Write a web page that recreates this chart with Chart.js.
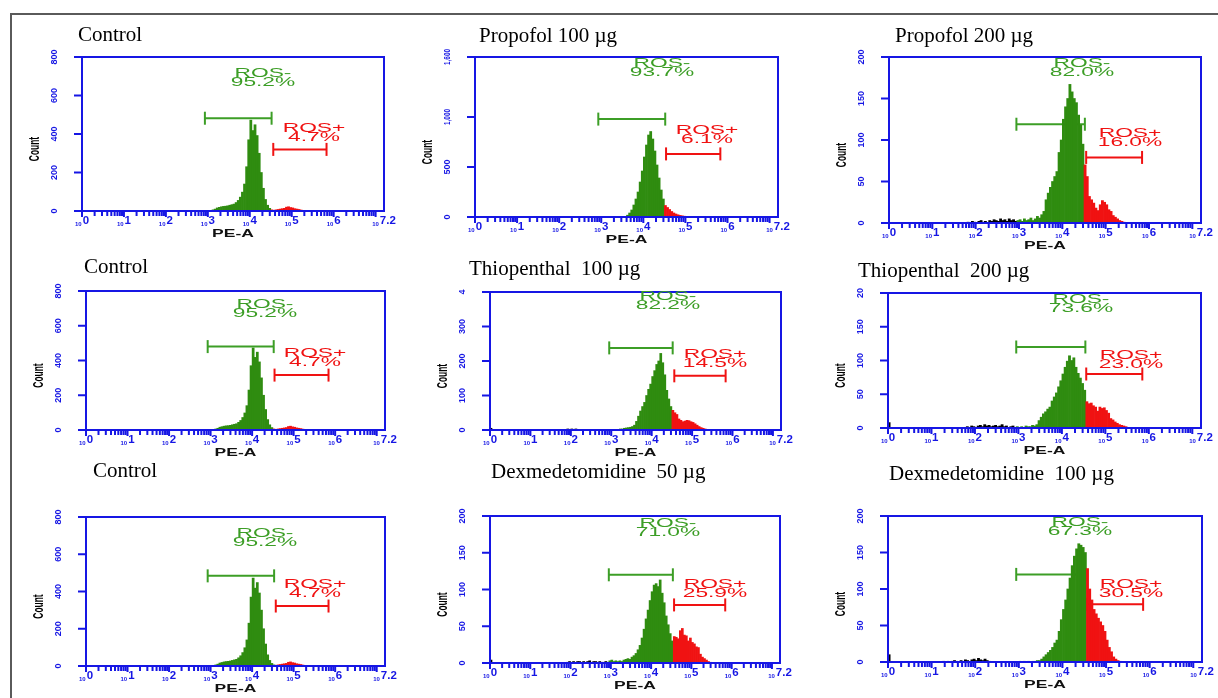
<!DOCTYPE html>
<html>
<head>
<meta charset="utf-8">
<title>ROS flow cytometry histograms</title>
<script src="https://cdn.jsdelivr.net/npm/chart.js@4.4.1/dist/chart.umd.min.js"></script>
<style>
  html, body { margin: 0; padding: 0; background: #fff; }
  #stage { position: relative; width: 1218px; height: 698px; overflow: hidden; background: #fff; }
  #frame { position: absolute; left: 10px; top: 13px; width: 1300px; height: 800px;
           border-left: 2px solid #5a5a5a; border-top: 2px solid #5a5a5a; }
  canvas { position: absolute; left: 0; top: 0; }
</style>
</head>
<body>
<div id="stage"><div id="frame"></div></div>
<script>
// ---------------- data ----------------
const BIN = 0.05; // histogram bin width, in decades of PE-A

// PE-A histograms (counts per bin), each starting at the given decade
const controlStart = 3.10;
const controlCounts = [6,10,16,19,22,24,25,27,30,33,36,44,55,72,98,140,230,370,472,418,448,392,300,200,118,60,30,14,6,
  4,6,8,10,12,14,20,22,18,16,12,10,8,5,3,2];

const prop100Start = 3.55;
const prop100Counts = [6,18,40,70,120,180,250,350,460,600,720,820,855,780,660,520,390,270,180,115,
  95,75,55,40,30,22,16,12,8,6,4,2];

const prop200Start = 1.80;
const prop200Counts = [1,0,2,1,0,2,3,1,2,0,3,2,4,3,2,5,3,4,2,5,3,4,2,
  3,4,2,5,3,4,6,3,5,8,6,10,14,28,36,43,50,56,62,85,100,125,140,150,167,158,150,145,130,118,95,70,
  56,32,28,24,18,15,22,27,25,22,16,14,9,7,5,3,2,1];

const thio100Start = 1.85;
const thio100Counts = [2,3,2,3,2,3,2,1,2,1,1,0,1,1,0,1,2,1,2,1,2,1,
  2,2,1,2,2,3,3,5,6,7,8,10,14,25,40,55,68,80,100,118,133,155,172,190,200,222,195,160,115,90,68,57,
  50,45,32,28,24,26,28,27,24,22,18,14,10,7,5,3,2,1];

const thio200Start = 1.80;
const thio200Counts = [2,1,3,2,1,3,4,2,5,3,4,2,3,4,2,3,5,2,3,1,2,3,1,
  2,1,2,1,3,2,2,4,3,5,11,16,21,24,28,31,40,46,52,61,70,80,90,99,107,100,104,90,81,74,66,56,
  39,36,37,33,31,25,31,29,30,26,22,14,12,9,7,5,4,3,2,1,1];

const dex50Start = 1.90;
const dex50Counts = [1,2,1,2,1,2,2,1,2,1,2,3,1,2,2,1,2,1,1,2,1,
  3,4,2,3,2,3,2,4,5,6,5,8,10,13,18,24,34,46,60,72,85,97,106,108,104,113,95,82,64,52,40,30,
  36,35,33,44,47,38,37,30,34,28,26,22,21,12,8,6,4,2,1];

const dex100Start = 1.25;
const dex100Counts = [1,0,1,0,1,2,1,0,2,1,3,2,1,3,4,2,5,3,2,4,2,1,0,0,0,0,0,0,0,0,0,0,0,0,
  0,1,0,1,0,1,0,1,1,2,2,4,7,10,13,16,20,26,30,42,58,72,85,100,115,132,145,155,162,160,157,150,
  128,100,85,72,66,60,55,50,42,30,20,14,7,4,2,1];

// events piled up in the lowest channel (10^0), per panel
const floorCounts = [0, 0, 0, 0, 5, 8, 0, 4, 10];

const panelTitles = ['Control', 'Propofol 100 \u00b5g', 'Propofol 200 \u00b5g',
  'Control', 'Thiopenthal  100 \u00b5g', 'Thiopenthal  200 \u00b5g',
  'Control', 'Dexmedetomidine  50 \u00b5g', 'Dexmedetomidine  100 \u00b5g'];

const panelStarts = [controlStart, prop100Start, prop200Start, controlStart, thio100Start, thio200Start, controlStart, dex50Start, dex100Start];
const panelCounts = [controlCounts, prop100Counts, prop200Counts, controlCounts, thio100Counts, thio200Counts, controlCounts, dex50Counts, dex100Counts];

// ROS- / ROS+ gates: decade range and the count level they are drawn at
const negGateFrom  = [2.93, 2.93, 2.94, 2.93, 2.95, 2.95, 2.93, 2.95, 2.94];
const negGateTo    = [4.52, 4.52, 4.52, 4.52, 4.52, 4.54, 4.53, 4.54, 4.53];
const negGateLevel = [482, 979, 119, 480, 238, 120, 484, 120, 120];
const posGateFrom  = [4.56, 4.54, 4.55, 4.54, 4.56, 4.56, 4.57, 4.57, 4.55];
const posGateTo    = [5.83, 5.83, 5.84, 5.84, 5.83, 5.85, 5.84, 5.84, 5.85];
const posGateLevel = [320, 631, 79, 316, 157, 80, 322, 79, 79];

const negPct = ['95.2%', '93.7%', '82.0%', '95.2%', '82.2%', '73.6%', '95.2%', '71.0%', '67.3%'];
const posPct = ['4.7%', '6.1%', '16.0%', '4.7%', '14.5%', '23.0%', '4.7%', '25.9%', '30.5%'];

// axis scales
const yMax = [800, 1600, 200, 800, 400, 200, 800, 200, 200];
const yTickValues = [
  [0, 200, 400, 600, 800], [0, 500, 1000, 1600], [0, 50, 100, 150, 200],
  [0, 200, 400, 600, 800], [0, 100, 200, 300, 400], [0, 50, 100, 150, 200],
  [0, 200, 400, 600, 800], [0, 50, 100, 150, 200], [0, 50, 100, 150, 200]];
const yTickLabels = [
  ['0', '200', '400', '600', '800'], ['0', '500', '1,000', '1,600'], ['0', '50', '100', '150', '200'],
  ['0', '200', '400', '600', '800'], ['0', '100', '200', '300', '4'], ['0', '50', '100', '150', '20'],
  ['0', '200', '400', '600', '800'], ['0', '50', '100', '150', '200'], ['0', '50', '100', '150', '200']];
const xTickValues = [0, 1, 2, 3, 4, 5, 6, 7.2];
const xTickExponents = ['0', '1', '2', '3', '4', '5', '6', '7.2'];
const X_MAX = 7.2;

// ---------------- layout ----------------
const W = 1218, H = 698;
// plot rectangle, title anchor, and centres of the two gate captions
const layout = [
  { l: 82,  t: 57,  r: 384,  b: 211, title: [78, 40.5],   neg: [263, 72],   pos: [314, 127] },
  { l: 475, t: 57,  r: 778,  b: 217, title: [479, 41.5],  neg: [662, 62],   pos: [707, 129] },
  { l: 889, t: 57,  r: 1201, b: 223, title: [895, 41.5],  neg: [1082, 62],  pos: [1130, 132] },
  { l: 86,  t: 291, r: 385,  b: 430, title: [84, 273],    neg: [265, 303],  pos: [315, 352] },
  { l: 490, t: 292, r: 781,  b: 430, title: [469, 275],   neg: [668, 295],  pos: [715, 353] },
  { l: 888, t: 293, r: 1201, b: 428, title: [858, 276.5], neg: [1081, 298], pos: [1131, 354] },
  { l: 86,  t: 517, r: 385,  b: 666, title: [93, 476.5],  neg: [265, 532],  pos: [315, 583] },
  { l: 490, t: 516, r: 780,  b: 663, title: [491, 478],   neg: [668, 522],  pos: [715, 583] },
  { l: 888, t: 516, r: 1202, b: 662, title: [889, 480],   neg: [1080, 521], pos: [1131, 583] }
];

const BLUE = '#1616e4';
const FILL_GREEN = '#2f8c10';
const GATE_GREEN = '#3c9e26';
const RED = '#f01212';
const SANS = '"Liberation Sans", Arial, sans-serif';
const SERIF = '"Liberation Serif", "Times New Roman", serif';

// text drawn wider than the font's natural proportions
function wideText(ctx, txt, cx, baseline, font, color, sx) {
  ctx.save();
  ctx.font = font;
  ctx.fillStyle = color;
  ctx.textAlign = 'center';
  ctx.textBaseline = 'alphabetic';
  ctx.translate(cx, baseline);
  ctx.scale(sx, 1);
  ctx.fillText(txt, 0, 0);
  ctx.restore();
}

const decor = {
  id: 'decor',
  afterDatasetsDraw(chart, args, opts) {
    const i = opts.panel;
    const p = layout[i];
    const { ctx, chartArea: a } = chart;
    const xs = chart.scales.x, ys = chart.scales.y;
    ctx.save();

    // plot frame
    ctx.strokeStyle = BLUE;
    ctx.lineWidth = 2;
    ctx.strokeRect(a.left, a.top, a.right - a.left, a.bottom - a.top);

    // x tick marks: decades plus 2..9 sub-ticks
    for (let n = 0; n <= 7; n++) {
      for (let k = 1; k <= 9; k++) {
        const v = n + Math.log10(k);
        if (v > X_MAX) break;
        const px = xs.getPixelForValue(v);
        ctx.lineWidth = 2;
        ctx.beginPath();
        ctx.moveTo(px, a.bottom);
        ctx.lineTo(px, a.bottom + (k === 1 ? 6 : 5));
        ctx.stroke();
      }
    }

    // x tick labels: small "10" followed by a larger exponent
    ctx.fillStyle = BLUE;
    ctx.textBaseline = 'alphabetic';
    ctx.textAlign = 'left';
    xTickValues.forEach((v, j) => {
      const px = xs.getPixelForValue(v);
      const small = 'bold 6px ' + SANS, big = 'bold 10px ' + SANS;
      ctx.font = small;
      const w1 = ctx.measureText('10').width;
      ctx.font = big;
      const w2 = ctx.measureText(xTickExponents[j]).width * 1.15;
      const x0 = px - (w1 + 1 + w2) / 2;
      ctx.font = small;
      ctx.fillText('10', x0, a.bottom + 14.5);
      ctx.save();
      ctx.font = big;
      ctx.translate(x0 + w1 + 1, a.bottom + 13);
      ctx.scale(1.15, 1);
      ctx.fillText(xTickExponents[j], 0, 0);
      ctx.restore();
    });

    // y tick marks and rotated labels
    ctx.strokeStyle = BLUE;
    ctx.lineWidth = 2;
    yTickValues[i].forEach((v, j) => {
      const py = ys.getPixelForValue(v);
      ctx.beginPath();
      ctx.moveTo(a.left - 8, py);
      ctx.lineTo(a.left, py);
      ctx.stroke();
      ctx.save();
      ctx.translate(a.left - 27, py);
      ctx.rotate(-Math.PI / 2);
      ctx.font = 'bold 9px ' + SANS;
      ctx.textAlign = 'center';
      ctx.textBaseline = 'middle';
      ctx.fillStyle = BLUE;
      ctx.fillText(yTickLabels[i][j], 0, 0, 16);
      ctx.restore();
    });

    // axis titles
    ctx.save();
    ctx.translate(a.left - 47, (a.top + a.bottom) / 2 + 15);
    ctx.rotate(-Math.PI / 2);
    ctx.scale(0.56, 1);
    ctx.font = 'bold 15px ' + SANS;
    ctx.fillStyle = '#000';
    ctx.textAlign = 'center';
    ctx.textBaseline = 'middle';
    ctx.fillText('Count', 0, 0);
    ctx.restore();
    wideText(ctx, 'PE-A', (a.left + a.right) / 2, a.bottom + 26, 'bold 10px ' + SANS, '#111', 1.75);

    // panel title
    ctx.font = '21px ' + SERIF;
    ctx.fillStyle = '#000';
    ctx.textAlign = 'left';
    ctx.textBaseline = 'alphabetic';
    ctx.fillText(panelTitles[i], p.title[0], p.title[1]);

    // gate captions
    const f = '13px ' + SANS;
    wideText(ctx, 'ROS-', p.neg[0], p.neg[1] + 4.6, f, GATE_GREEN, 1.75);
    wideText(ctx, negPct[i], p.neg[0], p.neg[1] + 14.1, f, GATE_GREEN, 1.75);
    wideText(ctx, 'ROS+', p.pos[0], p.pos[1] + 4.6, f, RED, 1.75);
    wideText(ctx, posPct[i], p.pos[0], p.pos[1] + 14.1, f, RED, 1.75);

    ctx.restore();
  }
};

function histogramPoints(i) {
  const pts = [];
  if (floorCounts[i] > 0) pts.push({ x: BIN / 2, y: floorCounts[i] });
  panelCounts[i].forEach((c, k) => pts.push({ x: panelStarts[i] + (k + 0.5) * BIN, y: c }));
  return pts;
}

function gateDataset(from, to, level, color) {
  return {
    type: 'line',
    data: [{ x: from, y: level }, { x: to, y: level }],
    borderColor: color,
    borderWidth: 2,
    pointStyle: 'line',
    pointRotation: 90,
    pointRadius: 6.5,
    pointBorderWidth: 2,
    pointBorderColor: color,
    pointBackgroundColor: color,
    fill: false,
    order: 1
  };
}

const stage = document.getElementById('stage');
layout.forEach((p, i) => {
  const cv = document.createElement('canvas');
  cv.width = W;
  cv.height = H;
  stage.appendChild(cv);
  new Chart(cv, {
    type: 'bar',
    data: {
      datasets: [
        {
          type: 'bar',
          data: histogramPoints(i),
          backgroundColor: (c) => {
            const v = c.raw ? c.raw.x : 0;
            if (v < negGateFrom[i]) return '#000';
            if (v <= negGateTo[i]) return FILL_GREEN;
            return RED;
          },
          borderWidth: 0,
          barPercentage: 1,
          categoryPercentage: 1,
          order: 0
        },
        gateDataset(negGateFrom[i], negGateTo[i], negGateLevel[i], GATE_GREEN),
        gateDataset(posGateFrom[i], posGateTo[i], posGateLevel[i], RED)
      ]
    },
    options: {
      responsive: false,
      animation: false,
      events: [],
      layout: { padding: { left: p.l, top: p.t, right: W - p.r, bottom: H - p.b } },
      scales: {
        x: { type: 'linear', min: 0, max: X_MAX, offset: false, display: false },
        y: { type: 'linear', min: 0, max: yMax[i], display: false }
      },
      plugins: { legend: { display: false }, tooltip: { enabled: false }, decor: { panel: i } }
    },
    plugins: [decor]
  });
});
</script>
</body>
</html>
